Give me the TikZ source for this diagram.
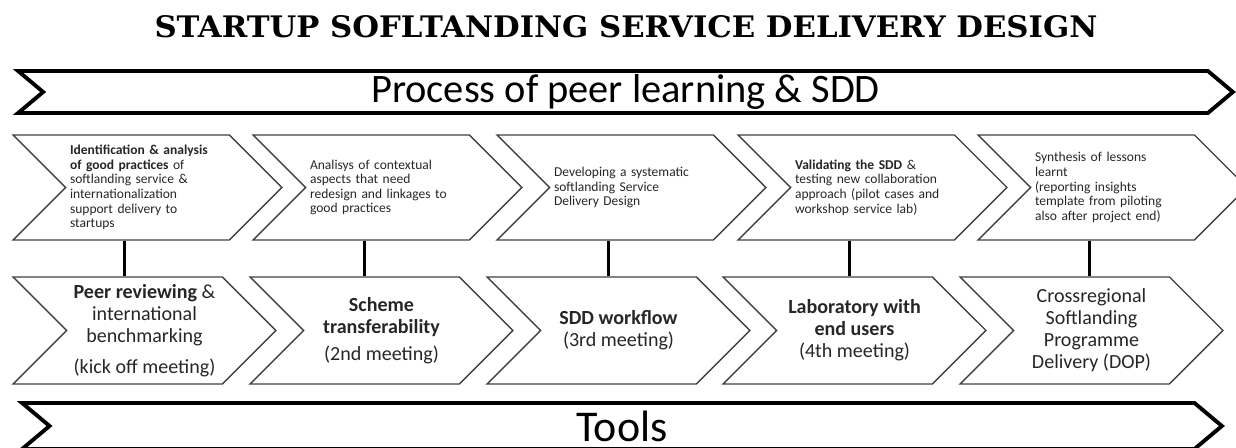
\documentclass[tikz,border=0pt]{standalone}
\usepackage{fontspec}
\setmainfont{Carlito}
\newfontfamily\titlefont{DejaVu Serif}
\usetikzlibrary{shapes.symbols}

\begin{document}
\begin{tikzpicture}[x=0.02cm,y=-0.02cm,
  chev/.style={draw=black!75,line width=0.8pt,signal,signal from=west,signal to=east,signal pointer angle=90,inner sep=0pt,text=black!85},
  stage/.style={chev,minimum width=5.38cm,minimum height=2.1cm,text width=3.1cm,align=left,font=\fontsize{7.7}{8.3}\selectfont},
  meeting/.style={chev,minimum width=5.26cm,minimum height=2.14cm,align=center,font=\fontsize{11.4}{12.5}\selectfont},
  banner/.style={draw,line width=2.2pt,signal,signal from=west,signal to=east,signal pointer angle=80,inner sep=0pt},
  link/.style={line width=1.7pt}]

  \useasboundingbox (0,0) rectangle (1236,448);
  \clip (0,0) rectangle (1236,448);

  \node (title) at (626,27) {\resizebox{18.86cm}{0.44cm}{\titlefont\bfseries STARTUP SOFLTANDING SERVICE DELIVERY DESIGN}};

  \node[banner,minimum width=24.3cm,minimum height=0.84cm,font=\fontsize{23}{23}\selectfont] (process) at (625.5,92) {Process of peer learning \& SDD};

  % process steps
  \node[stage] (s1) at (147.5,187.5) {\textbf{Identification \& analysis}\\ \textbf{of good practices} of\\ softlanding service \&\\ internationalization\\ support delivery to\\ startups};
  \node[stage] (s2) at (387.5,187.5) {Analisys of contextual\\ aspects that need\\ redesign and linkages to\\ good practices};
  \node[stage] (s3) at (631.5,187.5) {Developing a systematic\\ softlanding Service\\ Delivery Design};
  \node[stage] (s4) at (872.5,187.5) {\textbf{Validating the SDD} \&\\ testing new collaboration\\ approach (pilot cases and\\ workshop service lab)};
  \node[stage] (s5) at (1112.5,187.5) {Synthesis of lessons\\ learnt\\ (reporting insights\\ template from piloting\\ also after project end)};

  % meetings
  \node[meeting] (m1) at (144.5,330.5) {\textbf{Peer reviewing} \&\\ international\\ benchmarking\\[5pt] (kick off meeting)};
  \node[meeting] (m2) at (381.5,330.5) {\textbf{Scheme}\\ \textbf{transferability}\\[3pt] (2nd meeting)};
  \node[meeting] (m3) at (618.5,330.5) {\textbf{SDD workflow}\\ (3rd meeting)};
  \node[meeting] (m4) at (854.5,330.5) {\textbf{Laboratory with}\\ \textbf{end users}\\ (4th meeting)};
  \node[meeting] (m5) at (1091.5,330.5) {Crossregional\\ Softlanding\\ Programme\\ Delivery (DOP)};

  \foreach \i in {1,...,5}
    \draw[link] ([xshift=-0.46cm]s\i.south) -- ([xshift=-0.46cm]s\i.south |- m\i.north);

  \node[banner,minimum width=24cm,minimum height=0.92cm,
    label={[inner sep=1pt,font=\fontsize{25}{25}\selectfont]center:Tools}] (tools) at (622,426) {};

\end{tikzpicture}
\end{document}
